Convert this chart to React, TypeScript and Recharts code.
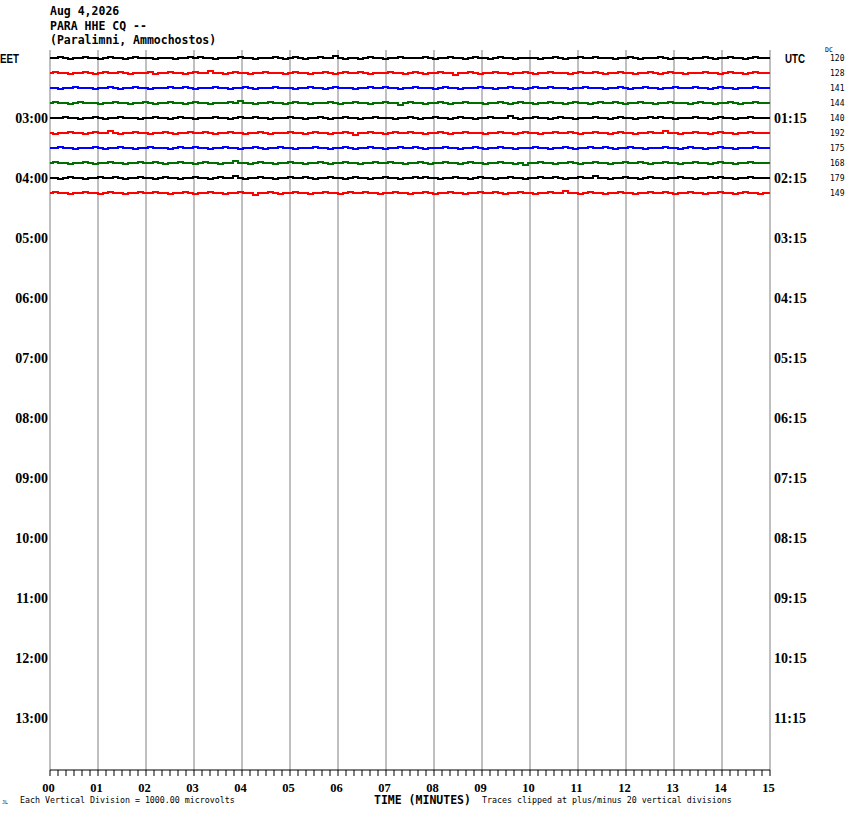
import { LineChart, Line, XAxis, YAxis, ReferenceLine } from "recharts"

// helicorder page: 15 minutes per row, 4 rows per hour
const header = ["Aug 4,2026", "PARA HHE CQ --", "(Paralimni, Ammochostos)"]

const minuteLabels = ["00", "01", "02", "03", "04", "05", "06", "07", "08", "09", "10", "11", "12", "13", "14", "15"]

const leftLabels = ["EET", "03:00", "04:00", "05:00", "06:00", "07:00", "08:00", "09:00", "10:00", "11:00", "12:00", "13:00"]
const rightLabels = ["UTC", "01:15", "02:15", "03:15", "04:15", "05:15", "06:15", "07:15", "08:15", "09:15", "10:15", "11:15"]

const dcValues = [120, 128, 141, 144, 140, 192, 175, 168, 179, 149]

const traceColors = ["#000000", "#ff0000", "#0000ff", "#006e00"]

// jitter per sample: + / - one pixel, ^ / v two pixels
const traceJitter = [
  "..+.-..+..-.+..-.+...-...-..+.+..-....+..-...+.-.+.-..+..^.-..-.+..-..+....+.-..+..-.+..-.+..-....-..+.-..+..+...-..+.-...+.-...-..+.-..+..-.+..",
  ".+..-..+.-.+..+.-...+-..+..-.+..^..-.+..-..+...-.+..-..+.-.+..+.-...+..-.+.-..+..v..+.-..+..-..+.-..+...-.+..+.-..+..-..+.-.+..-...+..-.+..-.+.",
  "..-..+...-..+.-..+..-...+..+.-...+..-..+.-...+...-..+..-.+...-..+..+..-..+...-.+..-...+..-..+..-.+..+...-..+...-..+.-..+..-..+...+..-.+..-...+..",
  ".+..-.+...-..+..-..+.-..+..-.+..-...+.^..-..+..-.+..-...+.-..+..-..+..v.+..-..+.-..+...-..+.-.+..-..+..-.+..-.+..+.-..+..-..+...-.+..-..+.-..+.",
  "...+..-..+.-..+...-..+..-.+..-...+..-.+..+..-...+..-..+.-..+..-..+...-..+.-..+..-.+..-..+...^.-..+..-.+..-...+..-.+..-..+.+..-...+..-.+..-..+..",
  ".-..+..-.+..^.-..+..-..+.-..+..+.-..+..-..+.-...+..-.+..-..+.v..+..-.+..+..-..+.-..+...-..+..-.+..-..+..+.-..+..-.+..-..+..^..-..+..-.+..-..+..",
  "..+..-...+.-..+..-..+...-.+..+..-..+..-..+.-..+..-...+..-..+.-..+..-..+..+.-...+..-..+.-..+..-...+..-..+.-..+..+.-..+..-...+..-.+..-..+..-...+.",
  ".+..-..+.-..+..-..+..+.-..+..-.+..-..^..-.+..-..+..-..+.-..+..-..+..+..-..+.-..+..-.+..-..+..-.v..+..-..+.-..+..-..+..+.-..+..-..+..-.+..-..+..",
  "..-.+..-..+..+.-..+..-.+..-..+..-.+..^.-..+..-..+..+.-..+..-.+..-..+..-..+.+..-..+..-.+..-..+..-..+..+.-..+..^..-..+..-.+..-..+..-..+.+..-..+..",
  ".+..-..+..-.+..-..+..+..-..+.-..+..-..+..v..+.-..+..-..+..-.+..+..-..+..-..+.-..+..-..+..+.-..+..-..+..^..-.+..-..+..-..+..+.-..+..-..+..-.+..-",
]

const ROWS = 48
const PX_PER_ROW = 15
const jitterValue: Record<string, number> = { "+": 1, "-": -1, "^": 2, v: -2 }

const sampleCount = Math.max(...traceJitter.map((s) => s.length))
const chartData = Array.from({ length: sampleCount + 1 }, (_, k) => {
  const row: Record<string, number> = { t: (k * 15) / sampleCount }
  traceJitter.forEach((s, i) => {
    const j = jitterValue[s[k] ?? "."] ?? 0
    row[`tr${i}`] = -(i + 0.5) + j / PX_PER_ROW
  })
  return row
})

const xTicks = Array.from({ length: 91 }, (_, i) => i / 6)
const rowTicks = Array.from({ length: ROWS }, (_, r) => -(r + 0.5))
const minutes = minuteLabels.map((_, i) => i)

const PLOT_LEFT = 50
const PLOT_RIGHT = 770

const serifBold = { fontFamily: "Liberation Serif", fontWeight: 700 }
const sansBold = { fontFamily: "Liberation Sans", fontWeight: 700 }
const mono = { fontFamily: "DejaVu Sans Mono" }

function rowOf(value: number) {
  return Math.round(-value - 0.5)
}

function MinuteTick(props: any) {
  const { x, y, payload } = props
  const v = payload.value
  if (Math.abs(v - Math.round(v)) > 1e-6) return null
  return (
    <text x={x - 1.5} y={y + 13.5} textAnchor="middle" fontSize={12.5} fill="#000" style={serifBold}>
      {minuteLabels[Math.round(v)]}
    </text>
  )
}

function LeftTick(props: any) {
  const { y, payload } = props
  const r = rowOf(payload.value)
  if (r % 4 !== 0) return null
  const label = leftLabels[r / 4]
  if (r === 0) {
    return (
      <text x={0} y={y + 5} fontSize={13} fill="#000" style={sansBold} textLength={19} lengthAdjust="spacingAndGlyphs">
        {label}
      </text>
    )
  }
  return (
    <text x={PLOT_LEFT - 2} y={y + 5} textAnchor="end" fontSize={14} fill="#000" style={serifBold}>
      {label}
    </text>
  )
}

function RightTick(props: any) {
  const { y, payload } = props
  const r = rowOf(payload.value)
  const dc = dcValues[r]
  return (
    <g>
      {r % 4 === 0 &&
        (r === 0 ? (
          <text x={PLOT_RIGHT + 15} y={y + 5} fontSize={13} fill="#000" style={sansBold} textLength={20} lengthAdjust="spacingAndGlyphs">
            {rightLabels[0]}
          </text>
        ) : (
          <text x={PLOT_RIGHT + 4} y={y + 5} fontSize={14} fill="#000" style={serifBold}>
            {rightLabels[r / 4]}
          </text>
        ))}
      {dc !== undefined && (
        <text x={830} y={y + 3.5} fontSize={8} fill="#000" style={mono}>
          {dc}
        </text>
      )}
      {r === 0 && (
        <text x={825} y={y - 6} fontSize={6.5} fill="#000" style={mono}>
          DC
        </text>
      )}
    </g>
  )
}

export default function App() {
  return (
    <div style={{ position: "absolute", left: 0, top: 0, width: 850, height: 814, background: "#fff" }}>
      {header.map((line, i) => (
        <div
          key={line}
          style={{
            position: "absolute",
            left: 50,
            top: 4 + i * 14.5,
            fontSize: 11.5,
            fontWeight: 700,
            lineHeight: "14px",
            whiteSpace: "pre",
            ...mono,
          }}
        >
          {line}
        </div>
      ))}

      <LineChart
        width={850}
        height={814}
        data={chartData}
        margin={{ top: 50, right: 0, bottom: 14, left: 0 }}
      >
        <XAxis
          dataKey="t"
          type="number"
          domain={[0, 15]}
          ticks={xTicks}
          interval={0}
          height={30}
          tickSize={6}
          axisLine={{ stroke: "#000" }}
          tickLine={{ stroke: "#000" }}
          tick={<MinuteTick />}
        />
        <XAxis
          xAxisId="top"
          orientation="top"
          dataKey="t"
          type="number"
          domain={[0, 15]}
          height={0}
          tick={false}
          tickLine={false}
          axisLine={{ stroke: "#000" }}
        />
        <YAxis
          type="number"
          domain={[-ROWS, 0]}
          ticks={rowTicks}
          interval={0}
          width={50}
          axisLine={false}
          tickLine={false}
          tick={<LeftTick />}
        />
        <YAxis
          yAxisId="right"
          orientation="right"
          type="number"
          domain={[-ROWS, 0]}
          ticks={rowTicks}
          interval={0}
          width={80}
          axisLine={false}
          tickLine={false}
          tick={<RightTick />}
        />

        {minutes.map((m) => (
          <ReferenceLine key={m} x={m} stroke="#808080" strokeWidth={1} />
        ))}

        {traceJitter.map((_, i) => (
          <Line
            key={i}
            yAxisId={i % 2 === 0 ? 0 : "right"}
            dataKey={`tr${i}`}
            stroke={traceColors[i % 4]}
            strokeWidth={2}
            dot={false}
            type="step"
            style={{ shapeRendering: "crispEdges" }}
            isAnimationActive={false}
          />
        ))}
      </LineChart>

      <div style={{ position: "absolute", left: 2, top: 799, fontSize: 5, lineHeight: "6px", ...mono }}>JL</div>
      <div style={{ position: "absolute", left: 20, top: 795, fontSize: 8.3, whiteSpace: "pre", ...mono }}>
        Each Vertical Division = 1000.00 microvolts
      </div>
      <div
        style={{
          position: "absolute",
          left: 374,
          top: 795,
          fontSize: 11.5,
          lineHeight: "10px",
          fontWeight: 700,
          whiteSpace: "pre",
          ...mono,
        }}
      >
        TIME (MINUTES)
      </div>
      <div style={{ position: "absolute", left: 482, top: 795, fontSize: 8.3, whiteSpace: "pre", ...mono }}>
        Traces clipped at plus/minus 20 vertical divisions
      </div>
    </div>
  )
}
